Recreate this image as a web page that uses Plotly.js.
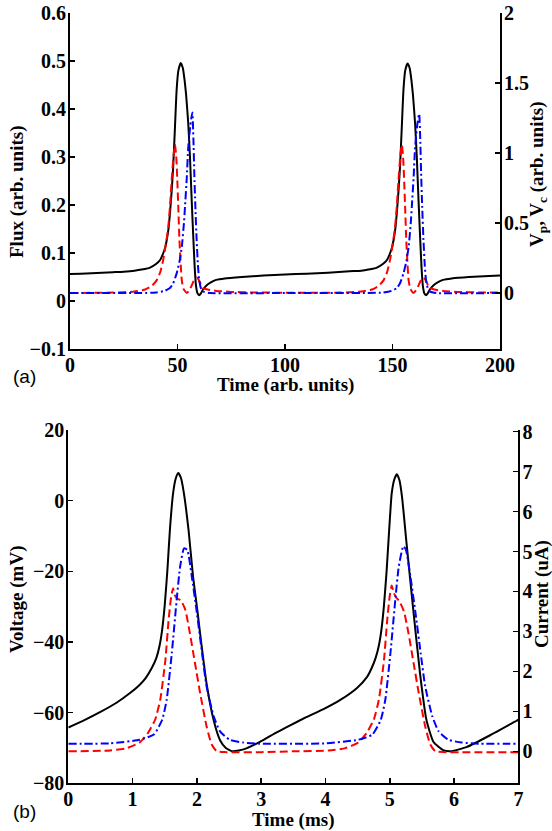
<!DOCTYPE html>
<html>
<head>
<meta charset="utf-8">
<script src="https://cdn.plot.ly/plotly-3.0.1.min.js"></script>
<style>html,body{margin:0;padding:0;background:#fff;}#chart{width:552px;height:831px;}</style>
</head>
<body>
<div id="chart"></div>
<script>
// ---------- Panel (a) ----------
const fluxTime = [0,5,10,15,20,25,30,34,37,40,42,43.4,44.3,45,45.8,46.5,47.3,48,48.8,49.6,50.4,51.5,52.5,53.3,54,55,55.8,56.6,57.4,58,58.6,59.3,60.1,60.9,62,63.6,65.5,68,72,80,90,100,110,120,130,135.5,139.5,142.5,145.5,147.5,148.9,149.8,150.5,151.3,152,152.8,153.5,154.3,155.1,155.9,157,158,158.8,159.5,160.5,161.3,162.1,162.9,163.5,164.1,164.8,165.6,166.4,167.5,169.1,171,173.5,177.5,185.5,195,200];
const flux = [0.056,0.057,0.058,0.059,0.060,0.061,0.063,0.066,0.069,0.077,0.086,0.100,0.112,0.127,0.150,0.183,0.230,0.280,0.360,0.440,0.480,0.496,0.485,0.460,0.430,0.370,0.300,0.210,0.127,0.070,0.032,0.016,0.012,0.016,0.025,0.033,0.039,0.044,0.047,0.050,0.053,0.055,0.057,0.059,0.062,0.063,0.066,0.069,0.077,0.086,0.100,0.112,0.127,0.150,0.183,0.230,0.280,0.360,0.440,0.480,0.495,0.485,0.460,0.430,0.370,0.300,0.210,0.127,0.070,0.032,0.016,0.012,0.016,0.025,0.033,0.039,0.044,0.047,0.050,0.052,0.053];

const vpTime = [0,20,30,35,38,40.3,42,43.4,44.6,45.7,46.5,47.3,48.1,48.8,49.4,49.9,50.4,50.9,51.5,52,52.8,54.3,55.5,56.5,57.5,58.9,60,61,62,64,68,75,85,100,125.5,135.5,140.5,143.5,145.8,147.5,148.9,150.1,151.2,152,152.8,153.6,154.3,154.9,155.4,155.9,156.4,157,157.5,158.3,159.8,161,162,163,164.4,165.5,166.5,167.5,169.5,173.5,180.5,190.5,200];
const vp = [0.000,0.003,0.010,0.025,0.050,0.090,0.150,0.240,0.350,0.470,0.620,0.810,0.970,1.060,0.980,0.810,0.600,0.380,0.200,0.090,0.030,0.000,0.020,0.050,0.085,0.110,0.090,0.055,0.035,0.025,0.015,0.008,0.004,0.002,0.003,0.010,0.025,0.050,0.090,0.150,0.240,0.350,0.470,0.620,0.810,0.970,1.060,0.980,0.810,0.600,0.380,0.200,0.090,0.030,0.000,0.020,0.050,0.085,0.110,0.090,0.055,0.035,0.025,0.015,0.008,0.004,0.003];

const vcTime = [0,40,44,46.5,48,49.6,51,52,53,53.5,54.3,55,56,56.9,57.4,57.8,58.3,58.9,59.5,60.1,61,62,65,100,145.5,149.5,152,153.5,155.1,156.5,157.5,158.5,159,159.8,160.5,161.5,162.4,162.9,163.3,163.8,164.4,165,165.6,166.5,167.5,170.5,200];
const vc = [0.000,0.003,0.015,0.035,0.070,0.140,0.230,0.330,0.500,0.620,0.820,1.040,1.200,1.290,1.100,0.860,0.620,0.380,0.200,0.090,0.030,0.010,0.000,0.000,0.003,0.015,0.035,0.070,0.140,0.230,0.330,0.500,0.620,0.820,1.040,1.200,1.280,1.100,0.860,0.620,0.380,0.200,0.090,0.030,0.010,0.000,0.000];

// ---------- Panel (b) ----------
const voltTime = [0,0.25,0.5,0.75,0.95,1.1,1.2,1.3,1.37,1.42,1.46,1.50,1.54,1.58,1.63,1.67,1.71,1.75,1.79,1.87,1.94,2.00,2.05,2.15,2.26,2.36,2.45,2.55,2.65,2.77,2.98,3.24,3.45,3.7,3.97,4.23,4.49,4.65,4.72,4.78,4.83,4.87,4.91,4.95,4.99,5.03,5.07,5.11,5.15,5.19,5.26,5.36,5.47,5.57,5.68,5.83,5.96,6.20,6.56,6.97,7.0];
const voltage = [-64.2,-62.1,-59.8,-57.2,-54.6,-52.3,-50.3,-47.3,-44.5,-41.0,-36.5,-29.5,-20.0,-8.3,2.1,6.2,7.8,6.5,3.0,-8.3,-21.5,-30.0,-37.6,-51.7,-62.1,-67.8,-70.0,-70.9,-70.7,-70.1,-68.3,-65.6,-63.6,-61.3,-59.0,-56.4,-53.0,-49.8,-47.3,-44.5,-41.0,-36.5,-29.5,-20.0,-8.3,2.1,6.0,7.5,5.8,1.1,-12.0,-30.0,-48.9,-62.1,-68.3,-70.6,-70.9,-69.7,-66.4,-62.3,-62.0];

const iRedTime = [0,0.65,0.91,1.11,1.24,1.35,1.43,1.51,1.56,1.60,1.63,1.66,1.70,1.75,1.82,1.89,1.97,2.05,2.15,2.23,2.31,2.46,3.0,3.5,4.05,4.31,4.51,4.64,4.75,4.83,4.91,4.96,5.00,5.03,5.06,5.10,5.15,5.22,5.29,5.37,5.45,5.55,5.63,5.71,5.86,7.0];
const iRed = [0.00,0.02,0.08,0.22,0.46,0.79,1.29,2.29,3.29,3.87,4.08,3.90,3.82,3.78,3.54,2.96,2.21,1.46,0.63,0.17,0.00,-0.02,-0.02,0.00,0.02,0.08,0.22,0.46,0.79,1.29,2.29,3.29,3.90,4.15,3.97,3.85,3.75,3.50,2.96,2.21,1.46,0.63,0.17,0.00,-0.02,-0.02];

const iBlueTime = [0,0.65,1.11,1.33,1.46,1.53,1.61,1.69,1.74,1.80,1.85,1.92,2.00,2.08,2.15,2.26,2.36,2.51,2.72,2.98,4.0,4.51,4.73,4.86,4.93,5.01,5.09,5.14,5.21,5.25,5.32,5.40,5.48,5.55,5.66,5.76,5.91,6.12,6.38,7.0];
const iBlue = [0.19,0.20,0.29,0.42,0.79,1.29,2.46,3.87,4.63,5.08,5.04,4.38,3.46,2.46,1.63,0.88,0.50,0.29,0.22,0.19,0.20,0.29,0.42,0.79,1.29,2.46,3.87,4.63,5.13,5.05,4.38,3.46,2.46,1.63,0.88,0.50,0.29,0.22,0.19,0.19];

// ---------- tick values / labels ----------
const xTicksA = [0,50,100,150,200];
const xTextA = ['0','50','100','150','200'];
const yTicksA = [-0.1,0,0.1,0.2,0.3,0.4,0.5,0.6];
const yTextA = ['\u22120.1','0','0.1','0.2','0.3','0.4','0.5','0.6'];
const y2TicksA = [0,0.5,1,1.5,2];
const y2TextA = ['0','0.5','1','1.5','2'];
const xTicksB = [0,1,2,3,4,5,6,7];
const xTextB = ['0','1','2','3','4','5','6','7'];
const yTicksB = [-80,-60,-40,-20,0,20];
const yTextB = ['\u221280','\u221260','\u221240','\u221220','0','20'];
const y2TicksB = [0,1,2,3,4,5,6,7,8];
const y2TextB = ['0','1','2','3','4','5','6','7','8'];

const W = 552, H = 831;
const tickFont = () => ({family: 'Liberation Serif', size: 20, color: '#000', weight: 700});
const titleFont = () => ({family: 'Liberation Serif', size: 19, color: '#000', weight: 700});
const sans = () => ({family: 'Liberation Sans', size: 19, color: '#000', weight: 400});
const bold = arr => arr.map(s => '<b>' + s + '</b>');

function makeAxis(domain, range, anchor, tickvals, ticktext, side, overlaying, standoff) {
  const a = {
    domain: domain, range: range, anchor: anchor,
    tickmode: 'array', tickvals: tickvals, ticktext: bold(ticktext),
    tickfont: tickFont(), ticklabelstandoff: standoff,
    showgrid: false, zeroline: false, showline: true, linecolor: '#000', linewidth: 2,
    ticks: 'inside', ticklen: 5, tickwidth: 1.5, tickcolor: '#000'
  };
  if (side) a.side = side;
  if (overlaying) a.overlaying = overlaying;
  return a;
}

const traces = [
  {x: fluxTime, y: flux, xaxis: 'x', yaxis: 'y', mode: 'lines', line: {color: '#000', width: 2, shape: 'spline', smoothing: 0.5}},
  {x: vpTime, y: vp, xaxis: 'x', yaxis: 'y2', mode: 'lines', line: {color: '#ff0000', width: 2, dash: '8px,4px', shape: 'spline', smoothing: 0.5}},
  {x: vcTime, y: vc, xaxis: 'x', yaxis: 'y2', mode: 'lines', line: {color: '#0000ff', width: 2, dash: '8px,3px,2px,3px', shape: 'spline', smoothing: 0.5}},
  {x: voltTime, y: voltage, xaxis: 'x2', yaxis: 'y3', mode: 'lines', line: {color: '#000', width: 2, shape: 'spline', smoothing: 0.5}},
  {x: iRedTime, y: iRed, xaxis: 'x2', yaxis: 'y4', mode: 'lines', line: {color: '#ff0000', width: 2, dash: '8px,4px', shape: 'spline', smoothing: 0.5}},
  {x: iBlueTime, y: iBlue, xaxis: 'x2', yaxis: 'y4', mode: 'lines', line: {color: '#0000ff', width: 2, dash: '8px,3px,2px,3px', shape: 'spline', smoothing: 0.5}}
];

function ann(text, px, py, font, angle) {
  return {text: text, x: px / W, y: 1 - py / H, xref: 'paper', yref: 'paper', showarrow: false,
          xanchor: 'center', yanchor: 'middle', font: font, textangle: angle || 0};
}

const domTopY = [1 - 349 / H, 1 - 13 / H];
const domBotY = [1 - 783.3 / H, 1 - 430 / H];

const layout = {
  width: W, height: H, margin: {l: 0, r: 0, t: 0, b: 0},
  font: {family: 'Liberation Serif', size: 20, color: '#000', weight: 700},
  paper_bgcolor: '#fff', plot_bgcolor: '#fff', showlegend: false,
  xaxis: makeAxis([70 / W, 500 / W], [0, 200], 'y', xTicksA, xTextA, null, null, -3),
  yaxis: makeAxis(domTopY, [-0.1, 0.6], 'x', yTicksA, yTextA, null, null, -2),
  yaxis2: makeAxis(domTopY, [-0.4, 2], 'x', y2TicksA, y2TextA, 'right', 'y', -2),
  xaxis2: makeAxis([68.3 / W, 518.4 / W], [0, 7], 'y3', xTicksB, xTextB, null, null, -3),
  yaxis3: makeAxis(domBotY, [-80, 20], 'x2', yTicksB, yTextB, null, null, -2),
  yaxis4: makeAxis(domBotY, [-0.8, 8.04], 'x2', y2TicksB, y2TextB, 'right', 'y3', -2),
  annotations: [
    ann('<b>Flux (arb. units)</b>', 17, 192, titleFont(), -90),
    ann('<b>V<sub>p</sub>, V<sub>c</sub> (arb. units)</b>', 538, 175, titleFont(), -90),
    ann('<b>Time (arb. units)</b>', 285, 385, titleFont()),
    ann('(a)', 24, 376, sans()),
    ann('<b>Voltage (mV)</b>', 17, 600, titleFont(), -90),
    ann('<b>Current (uA)</b>', 542, 594, titleFont(), -90),
    ann('<b>Time (ms)</b>', 293, 820, titleFont()),
    ann('(b)', 24, 811, sans())
  ]
};

Plotly.newPlot('chart', traces, layout, {displayModeBar: false, staticPlot: true});
</script>
</body>
</html>
